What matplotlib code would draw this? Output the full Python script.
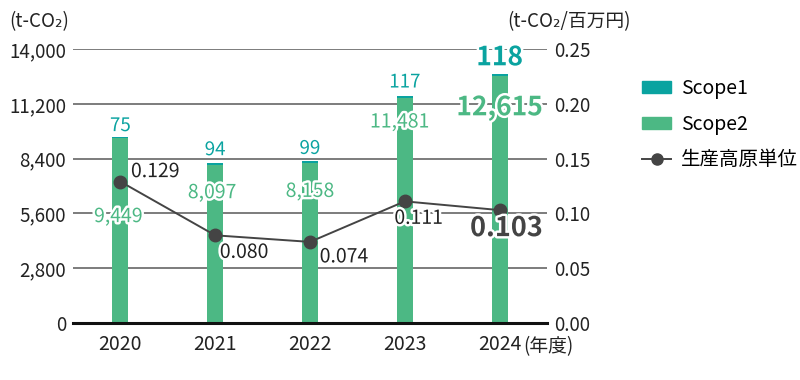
import matplotlib
matplotlib.use("Agg")
import matplotlib.pyplot as plt
import matplotlib.patheffects as pe
from matplotlib.patches import Patch
from matplotlib.lines import Line2D
import numpy as np

plt.rcParams['font.family'] = ['Noto Sans CJK JP', 'DejaVu Sans']

years = ['2020', '2021', '2022', '2023', '2024']
scope1 = [75, 94, 99, 117, 118]
scope2 = [9449, 8097, 8158, 11481, 12615]
intensity = [0.129, 0.080, 0.074, 0.111, 0.103]
left_ticks = [0, 2800, 5600, 8400, 11200, 14000]
right_ticks = [0.00, 0.05, 0.10, 0.15, 0.20, 0.25]

C1 = '#0aa3a0'
C2 = '#4cb884'
CL = '#444444'
TXT = '#222222'

fig = plt.figure(figsize=(8, 3.8), dpi=100)
ax = fig.add_axes([73/800, 1-323/380, (547-73)/800, (323-49)/380])
ax2 = ax.twinx()

x = np.arange(len(years))
w = 0.17
ax.bar(x, scope2, w, color=C2, zorder=2)
ax.bar(x, scope1, w, bottom=scope2, color=C1, zorder=2)
ax.set_xlim(-0.5, 4.5)
ax.set_ylim(0, 14000)
ax.set_yticks(left_ticks)
ax.set_yticklabels([f'{v:,}' for v in left_ticks], fontsize=13.5, color=TXT)
for v in left_ticks[1:]:
    ax.axhline(v, color='#666666', lw=1.2, zorder=1)
ax.axhline(0, color='#111111', lw=2.2, zorder=3, clip_on=False)
ax.set_xticks(x)
ax.set_xticklabels(years, fontsize=14, color=TXT)
ax.tick_params(axis='y', length=0, pad=5)
ax.tick_params(axis='x', length=0, pad=8)
for s in ax.spines.values():
    s.set_visible(False)
for s in ax2.spines.values():
    s.set_visible(False)

ax2.set_ylim(0, 0.25)
ax2.set_yticks(right_ticks)
ax2.set_yticklabels([f'{v:.2f}' for v in right_ticks], fontsize=13.5, color=TXT)
ax2.tick_params(axis='y', length=0, pad=5)
ax2.plot(x, intensity, color=CL, lw=1.4, marker='o', markersize=9, zorder=5)
ax2.patch.set_visible(False)

stroke = [pe.withStroke(linewidth=3.5, foreground='white')]

# Scope1 labels (offset px above bar top)
s1_off = [(0, 11), (0, 13), (0, 13), (0, 14), (0, 16)]
for i in range(5):
    top = scope1[i] + scope2[i]
    bold = i == 4
    ax.annotate(f'{scope1[i]}', (x[i], top), xytext=s1_off[i], textcoords='offset pixels',
                ha='center', va='center', color=C1,
                fontsize=19 if bold else 13.5, fontweight='bold' if bold else 'normal',
                path_effects=stroke, zorder=6)
# Scope2 labels
s2_off = [(-2, -80), (-3, -30), (0, -30), (-5, -26), (0, -34)]
for i in range(5):
    top = scope1[i] + scope2[i]
    bold = i == 4
    ax.annotate(f'{scope2[i]:,}', (x[i], top), xytext=s2_off[i], textcoords='offset pixels',
                ha='center', va='center', color=C2,
                fontsize=19 if bold else 14, fontweight='bold' if bold else 'normal',
                path_effects=stroke, zorder=6)
# intensity labels
l_off = [(35, 10), (29, -17), (34, -15), (14, -17), (7, -18)]
for i in range(5):
    bold = i == 4
    ax2.annotate(f'{intensity[i]:.3f}', (x[i], intensity[i]), xytext=l_off[i], textcoords='offset pixels',
                 ha='center', va='center', color=CL if bold else TXT,
                 fontsize=19.5 if bold else 14, fontweight='bold' if bold else 'normal',
                 path_effects=stroke, zorder=7)

fig.text(9/800, 1-22/380, '(t-CO₂)', fontsize=13.5, color=TXT, va='center', ha='left')
fig.text(507/800, 1-22/380, '(t-CO₂/百万円)', fontsize=13.5, color=TXT, va='center', ha='left')
fig.text(523/800, 1-347/380, '(年度)', fontsize=13.5, color=TXT, va='center', ha='left')

handles = [Patch(color=C1, label='Scope1'), Patch(color=C2, label='Scope2'),
           Line2D([0], [0], color=CL, lw=1.4, marker='o', markersize=8, label='生産高原単位')]
fig.legend(handles=handles, loc='upper left', bbox_to_anchor=(642/800, 1-78/380),
           frameon=False, fontsize=14, handlelength=1.5, handleheight=0.6,
           labelspacing=0.75, handletextpad=0.5, borderpad=0, borderaxespad=0)

fig.savefig('out.png', dpi=100)
